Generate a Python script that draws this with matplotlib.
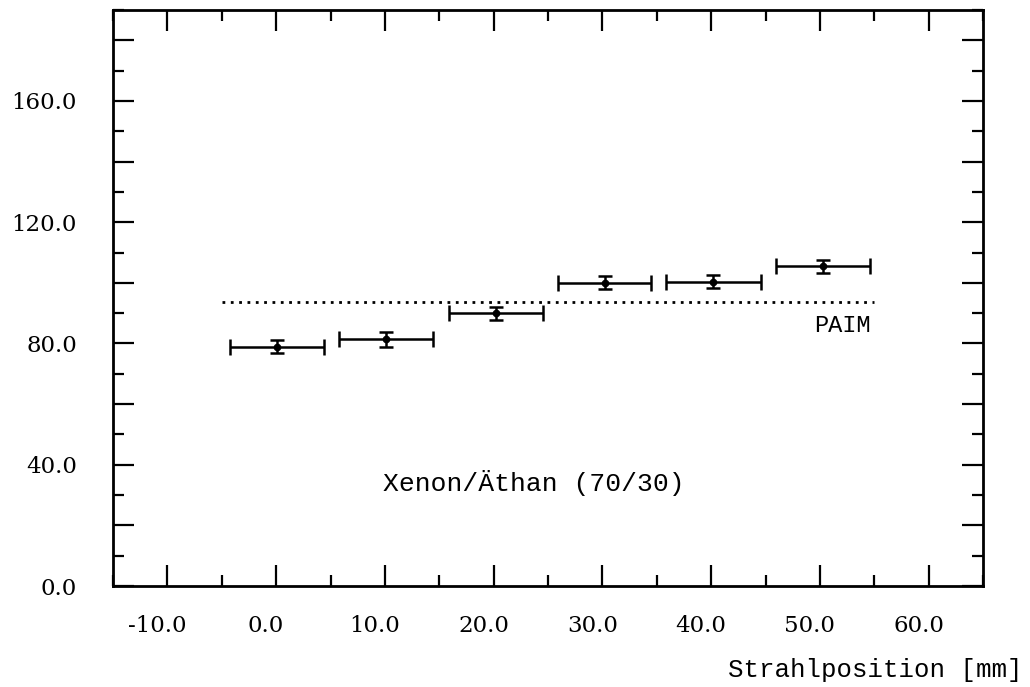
import numpy as np
import matplotlib
matplotlib.use('Agg')
import matplotlib.pyplot as plt
import matplotlib.transforms as mtransforms
from matplotlib.ticker import MultipleLocator, FormatStrFormatter

# Strahlposition [mm] and measured values
position = [0.1, 10.1, 20.2, 30.2, 40.2, 50.3]
position_err = [4.3, 4.35, 4.3, 4.3, 4.35, 4.3]
value = [79.0, 81.4, 90.0, 100.1, 100.4, 105.4]
value_err = [2.3, 2.5, 2.2, 2.0, 2.1, 2.2]

# PAIM prediction
paim_x = [-5.0, 55.0]
paim_y = [93.6, 93.6]

plt.rcParams['font.family'] = 'DejaVu Serif'
mono = 'Liberation Mono'

fig = plt.figure(figsize=(10.3, 6.87), dpi=100)
ax = fig.add_axes([0.1097, 0.147, 0.8447, 0.8384])

ax.errorbar(position, value, xerr=position_err, fmt='none', ecolor='black',
            elinewidth=1.8, capsize=6, capthick=1.8)
ax.errorbar(position, value, yerr=value_err, fmt='o', color='black', ms=4.5,
            elinewidth=1.8, capsize=5, capthick=1.8)
ax.plot(paim_x, paim_y, color='black', lw=2, linestyle=(0, (1, 2)))

ax.text(54.7, 85.8, 'PAIM', ha='right', va='center', fontsize=17, family=mono)
ax.text(23.7, 34, 'Xenon/Äthan (70/30)', ha='center', va='center', fontsize=19, family=mono)

ax.set_xlim(-15, 65)
ax.set_ylim(0, 190)
ax.xaxis.set_major_locator(MultipleLocator(10))
ax.xaxis.set_minor_locator(MultipleLocator(5))
ax.yaxis.set_major_locator(MultipleLocator(20))
ax.yaxis.set_minor_locator(MultipleLocator(10))
ax.xaxis.set_major_formatter(FormatStrFormatter('%.1f'))
ax.yaxis.set_major_formatter(lambda v, p: '%.1f' % v if round(v) % 40 == 0 else '')

ax.tick_params(which='both', direction='in', top=True, right=True, width=1.6)
ax.tick_params(which='major', length=15)
ax.tick_params(which='minor', length=8)
ax.tick_params(axis='x', which='major', labelsize=16.5, pad=21)
ax.tick_params(axis='y', which='major', labelsize=16.5, pad=26)

# labels sit slightly left of their ticks in the original
shift = mtransforms.ScaledTranslation(-10 / 100, 0, fig.dpi_scale_trans)
for lab in ax.get_xticklabels():
    lab.set_transform(lab.get_transform() + shift)

for sp in ax.spines.values():
    sp.set_linewidth(2)

fig.text(0.993, 0.025, 'Strahlposition [mm]', ha='right', va='center', fontsize=18.5, family=mono)

fig.savefig('out.png', dpi=100)
